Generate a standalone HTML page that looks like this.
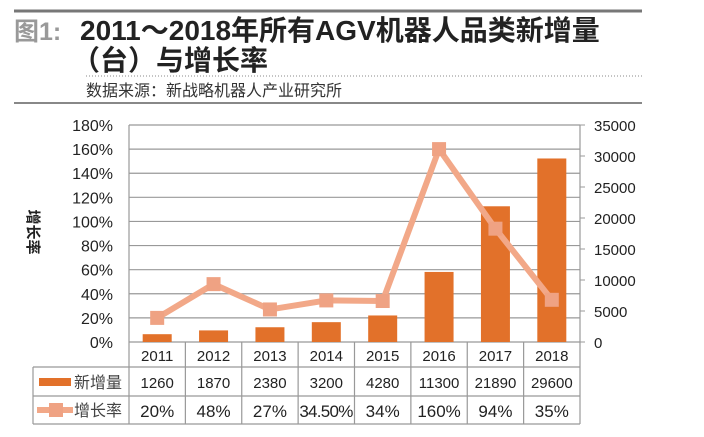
<!DOCTYPE html>
<html><head><meta charset="utf-8"><style>
body{margin:0;width:704px;height:432px;background:#fff;overflow:hidden;font-family:"Liberation Sans","Noto Sans CJK SC",sans-serif;}
svg text{font-family:"Liberation Sans","Noto Sans CJK SC",sans-serif;}
</style></head><body>
<svg width="704" height="432">
<g>
<line x1="14" y1="11" x2="642" y2="11" stroke="#777" stroke-width="3"/>
<text x="14" y="40" font-size="25" font-weight="bold" fill="#999">图1:</text>
<text x="80" y="40" font-size="28" font-weight="bold" fill="#222">2011～2018年所有AGV机器人品类新增量</text>
<text x="72" y="70" font-size="28" font-weight="bold" fill="#222">（台）与增长率</text>
<line x1="86" y1="76" x2="642" y2="76" stroke="#888" stroke-width="1" stroke-dasharray="1,2"/>
<text x="86" y="96" font-size="16" fill="#333">数据来源：新战略机器人产业研究所</text>
<line x1="14" y1="103" x2="642" y2="103" stroke="#888" stroke-width="2"/>
</g>
<g id="plot"></g>
<text transform="translate(28,232) rotate(90)" font-size="15" font-weight="bold" text-anchor="middle" fill="#222">增长率</text>
</svg>
<script>
const years=["2011","2012","2013","2014","2015","2016","2017","2018"];
const added=[1260,1870,2380,3200,4280,11300,21890,29600];
const growth=[20,48,27,34.5,34,160,94,35];
const growthLabels=["20%","48%","27%","34.50%","34%","160%","94%","35%"];
const leftTicks=[0,20,40,60,80,100,120,140,160,180];
const rightTicks=[0,5000,10000,15000,20000,25000,30000,35000];
const NS="http://www.w3.org/2000/svg";
const g=document.getElementById('plot');
const X0=129,X1=580,Y0=342,Y1=125,cw=(X1-X0)/years.length;
const yL=v=>Y0-v/180*(Y0-Y1), yR=v=>Y0-v/35000*(Y0-Y1), xc=i=>X0+cw*(i+0.5);
function mk(t,a,txt){const e=document.createElementNS(NS,t);for(const k in a)e.setAttribute(k,a[k]);if(txt!=null)e.textContent=txt;g.appendChild(e);return e;}
leftTicks.forEach(v=>{
 const l=mk('line',{x1:X0,x2:X1,y1:yL(v),y2:yL(v),stroke:'#999','stroke-width':1.2});
 
 
 const t=mk('text',{x:113,y:yL(v)+6,'font-size':16,'text-anchor':'end',fill:'#222'},v+'%');
 
 
});
rightTicks.forEach(v=>{
 const l=mk('line',{x1:X1,x2:X1+5,y1:yR(v),y2:yR(v),stroke:'#999'});
 
 
 const t=mk('text',{x:594,y:yR(v)+6,'font-size':15,fill:'#222'},v);
 
 
});
const ax=mk('path',{d:`M${X0} ${Y1}V${Y0}M${X1} ${Y1}V${Y0}`,stroke:'#999','stroke-width':1.2,fill:'none'});


added.forEach((v,i)=>{
 const r=mk('rect',{x:xc(i)-14.5,y:yR(v),width:29,height:Y0-yR(v),fill:'#E2712A'});
 
 
});
const pl=mk('polyline',{points:growth.map((v,i)=>xc(i)+','+yL(v)).join(' '),fill:'none',stroke:'#F2A888','stroke-width':6,'stroke-linejoin':'round'});


growth.forEach((v,i)=>{
 const r=mk('rect',{x:xc(i)-7,y:yL(v)-7,width:14,height:14,fill:'#EFA283'});
 
 
});
const tb=mk('path',{d:`M${X0} 342V424M33 367V424M33 367H${X1}M33 396H${X1}M33 424H${X1}`+years.map((y,i)=>`M${X0+cw*(i+1)} 342V424`).join(''),stroke:'#999','stroke-width':1.2,fill:'none'});


years.forEach((y,i)=>{
 const a=mk('text',{x:xc(i),y:361,'font-size':15,'text-anchor':'middle',fill:'#222'},y);
 
 
 const b=mk('text',{x:xc(i),y:388,'font-size':15,'text-anchor':'middle',fill:'#222'},added[i]);
 
 
 const c=mk('text',{x:xc(i),y:417,'font-size':17,'text-anchor':'middle',fill:'#222'},growthLabels[i]);
 if(growthLabels[i].length>5)c.setAttribute('textLength',54);
 
 
});
const lk1=mk('rect',{x:39,y:378,width:32,height:8,fill:'#E2712A'});


const lt1=mk('text',{x:74,y:388,'font-size':16,fill:'#444'},'新增量');


const lk2=mk('line',{x1:37,x2:73,y1:410,y2:410,stroke:'#F2A888','stroke-width':6});


const lk3=mk('rect',{x:49,y:403,width:14,height:14,fill:'#EFA283'});


const lt2=mk('text',{x:74,y:416,'font-size':16,fill:'#444'},'增长率');


</script>
</body></html>
